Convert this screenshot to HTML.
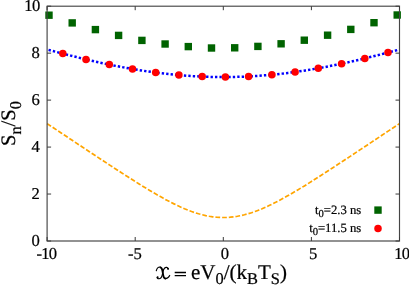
<!DOCTYPE html>
<html><head><meta charset="utf-8"><title>plot</title>
<style>
html,body{margin:0;padding:0;background:#fff;}
svg{display:block;}
text{font-family:"Liberation Serif",serif;fill:#000;text-rendering:geometricPrecision;stroke:#000;stroke-width:0.22px;}
</style></head><body>
<svg width="409" height="285" viewBox="0 0 409 285">
<defs><filter id="soft" x="-5%" y="-5%" width="110%" height="110%"><feGaussianBlur stdDeviation="0.35"/></filter></defs>
<rect width="409" height="285" fill="#fff"/>
<g filter="url(#soft)">
<path d="M47.1,123.59 L50.6,125.94 L54.1,128.28 L57.7,130.63 L61.2,132.97 L64.7,135.31 L68.2,137.66 L71.8,140.00 L75.3,142.34 L78.8,144.68 L82.3,147.02 L85.9,149.35 L89.4,151.69 L92.9,154.02 L96.4,156.35 L100.0,158.67 L103.5,160.99 L107.0,163.30 L110.5,165.61 L114.1,167.92 L117.6,170.21 L121.1,172.49 L124.6,174.77 L128.2,177.03 L131.7,179.27 L135.2,181.50 L138.7,183.71 L142.2,185.90 L145.8,188.06 L149.3,190.19 L152.8,192.29 L156.3,194.35 L159.9,196.36 L163.4,198.33 L166.9,200.24 L170.4,202.09 L174.0,203.87 L177.5,205.58 L181.0,207.20 L184.5,208.74 L188.1,210.17 L191.6,211.50 L195.1,212.71 L198.6,213.80 L202.2,214.77 L205.7,215.60 L209.2,216.28 L212.7,216.82 L216.3,217.21 L219.8,217.44 L223.3,217.52 L226.8,217.44 L230.3,217.21 L233.9,216.82 L237.4,216.28 L240.9,215.60 L244.4,214.77 L248.0,213.80 L251.5,212.71 L255.0,211.50 L258.5,210.17 L262.1,208.74 L265.6,207.20 L269.1,205.58 L272.6,203.87 L276.2,202.09 L279.7,200.24 L283.2,198.33 L286.7,196.36 L290.3,194.35 L293.8,192.29 L297.3,190.19 L300.8,188.06 L304.4,185.90 L307.9,183.71 L311.4,181.50 L314.9,179.27 L318.4,177.03 L322.0,174.77 L325.5,172.49 L329.0,170.21 L332.5,167.92 L336.1,165.61 L339.6,163.30 L343.1,160.99 L346.6,158.67 L350.2,156.35 L353.7,154.02 L357.2,151.69 L360.7,149.35 L364.3,147.02 L367.8,144.68 L371.3,142.34 L374.8,140.00 L378.4,137.66 L381.9,135.31 L385.4,132.97 L388.9,130.63 L392.5,128.28 L396.0,125.94 L399.5,123.59" fill="none" stroke="#ffa500" stroke-width="1.7" stroke-dasharray="4.7 1.99"/>
<path d="M47.10,49.47 L52.97,51.04 L58.85,52.59 L64.72,54.12 L70.59,55.62 L76.47,57.08 L82.34,58.51 L88.21,59.91 L94.09,61.27 L99.96,62.58 L105.83,63.85 L111.71,65.07 L117.58,66.24 L123.45,67.37 L129.33,68.43 L135.20,69.45 L141.07,70.40 L146.95,71.30 L152.82,72.14 L158.69,72.91 L164.57,73.62 L170.44,74.27 L176.31,74.85 L182.19,75.37 L188.06,75.82 L193.93,76.20 L199.81,76.51 L205.68,76.76 L211.55,76.93 L217.43,77.04 L223.30,77.07 L229.17,77.04 L235.05,76.93 L240.92,76.76 L246.79,76.51 L252.67,76.20 L258.54,75.82 L264.41,75.37 L270.29,74.85 L276.16,74.27 L282.03,73.62 L287.91,72.91 L293.78,72.14 L299.65,71.30 L305.53,70.40 L311.40,69.45 L317.27,68.43 L323.15,67.37 L329.02,66.24 L334.89,65.07 L340.77,63.85 L346.64,62.58 L352.51,61.27 L358.39,59.91 L364.26,58.51 L370.13,57.08 L376.01,55.62 L381.88,54.12 L387.75,52.59 L393.63,51.04 L399.50,49.47" fill="none" stroke="#0000ff" stroke-width="2.5" stroke-dasharray="2.35 2.1" stroke-dashoffset="-1.5"/>
<g fill="#006400"><rect x="45.3" y="11.5" width="7.4" height="7.4"/><rect x="68.5" y="19.2" width="7.4" height="7.4"/><rect x="91.7" y="25.9" width="7.4" height="7.4"/><rect x="114.9" y="31.7" width="7.4" height="7.4"/><rect x="138.2" y="36.7" width="7.4" height="7.4"/><rect x="161.4" y="40.3" width="7.4" height="7.4"/><rect x="184.6" y="42.9" width="7.4" height="7.4"/><rect x="207.8" y="44.3" width="7.4" height="7.4"/><rect x="231.0" y="44.1" width="7.4" height="7.4"/><rect x="254.2" y="42.7" width="7.4" height="7.4"/><rect x="277.4" y="40.1" width="7.4" height="7.4"/><rect x="300.6" y="36.5" width="7.4" height="7.4"/><rect x="323.9" y="31.5" width="7.4" height="7.4"/><rect x="347.1" y="25.7" width="7.4" height="7.4"/><rect x="370.3" y="19.0" width="7.4" height="7.4"/><rect x="393.5" y="11.3" width="7.4" height="7.4"/></g>
<g fill="#ff0000"><circle cx="62.8" cy="53.6" r="3.75"/><circle cx="86.0" cy="59.4" r="3.75"/><circle cx="109.3" cy="64.6" r="3.75"/><circle cx="132.5" cy="69.0" r="3.75"/><circle cx="155.7" cy="72.5" r="3.75"/><circle cx="178.9" cy="75.1" r="3.75"/><circle cx="202.2" cy="76.6" r="3.75"/><circle cx="225.4" cy="77.1" r="3.75"/><circle cx="248.6" cy="76.4" r="3.75"/><circle cx="271.9" cy="74.7" r="3.75"/><circle cx="295.1" cy="72.0" r="3.75"/><circle cx="318.3" cy="68.2" r="3.75"/><circle cx="341.6" cy="63.7" r="3.75"/><circle cx="364.8" cy="58.4" r="3.75"/><circle cx="388.0" cy="52.5" r="3.75"/></g>
<rect x="47.1" y="6.2" width="352.40" height="234.80" fill="none" stroke="#454545" stroke-width="1.15"/>
<path d="M47.10,241.0 v-4.0 M47.10,6.2 v4.0 M135.20,241.0 v-4.0 M135.20,6.2 v4.0 M223.30,241.0 v-4.0 M223.30,6.2 v4.0 M311.40,241.0 v-4.0 M311.40,6.2 v4.0 M399.50,241.0 v-4.0 M399.50,6.2 v4.0 M47.1,241.00 h4.0 M399.5,241.00 h-4.0 M47.1,194.04 h4.0 M399.5,194.04 h-4.0 M47.1,147.08 h4.0 M399.5,147.08 h-4.0 M47.1,100.12 h4.0 M399.5,100.12 h-4.0 M47.1,53.16 h4.0 M399.5,53.16 h-4.0 M47.1,6.20 h4.0 M399.5,6.20 h-4.0 " fill="none" stroke="#3a3a3a" stroke-width="1.0"/>
<g font-size="16.6"><text x="46.4" y="259.1" text-anchor="middle" letter-spacing="-0.7">-10</text><text x="134.8" y="259.1" text-anchor="middle">-5</text><text x="224.9" y="259.1" text-anchor="middle">0</text><text x="313.2" y="259.1" text-anchor="middle">5</text><text x="401.8" y="259.1" text-anchor="middle" letter-spacing="-0.7">10</text><text x="39.8" y="246.2" text-anchor="end">0</text><text x="39.8" y="199.2" text-anchor="end">2</text><text x="39.8" y="152.3" text-anchor="end">4</text><text x="39.8" y="105.3" text-anchor="end">6</text><text x="39.8" y="58.4" text-anchor="end">8</text><text x="39.8" y="11.4" text-anchor="end" letter-spacing="-0.7" dx="-0.3">10</text></g>
<g font-size="12.7">
<text x="361.3" y="213.6" text-anchor="end">t<tspan font-size="10.6" dy="3.3">0</tspan><tspan dy="-3.3">=2.3 ns</tspan></text>
<text x="361.3" y="232" text-anchor="end">t<tspan font-size="10.6" dy="3.3">0</tspan><tspan dy="-3.3">=11.5 ns</tspan></text>
</g>
<rect x="374.3" y="206.4" width="7.4" height="7.4" fill="#006400"/>
<circle cx="378" cy="228.5" r="3.75" fill="#ff0000"/>
<g font-size="21">
<g transform="translate(152,260) scale(0.0978)" fill="none" stroke="#000" stroke-linecap="round" stroke-linejoin="round"><path stroke-width="11.5" d="M44,110 C50,88 66,70 84,72"/><path stroke-width="19" d="M86,76 C100,80 104,96 107,112 L115,158 C118,176 124,188 136,189"/><path stroke-width="11.5" d="M136,192 C156,190 172,176 181,158"/><path stroke-width="11.5" d="M168,92 C160,74 142,70 130,82 C120,92 114,108 111,125 L105,152 C100,174 90,193 70,192 C58,191 50,185 52,177"/><circle cx="58" cy="176" r="10" fill="#000" stroke="none"/><circle cx="163" cy="90" r="10" fill="#000" stroke="none"/></g>
<path d="M174.7,272.5 H186 M174.7,275.65 H186" stroke="#000" stroke-width="1.3" fill="none"/>
<text x="191" y="278.8"><tspan>eV</tspan><tspan font-size="16.4" dy="5.6">0</tspan><tspan dy="-5.6">/(k</tspan><tspan font-size="16.4" dy="5.6">B</tspan><tspan dy="-5.6">T</tspan><tspan font-size="16.4" dy="5.6">S</tspan><tspan dy="-5.6">)</tspan></text>
<text transform="translate(15.2,146) rotate(-90)" font-size="20.5">S<tspan font-size="16.4" dy="5.6">n</tspan><tspan dy="-5.6">/S</tspan><tspan font-size="16.4" dy="5.6">0</tspan></text>
</g></g>
</svg>
</body></html>
